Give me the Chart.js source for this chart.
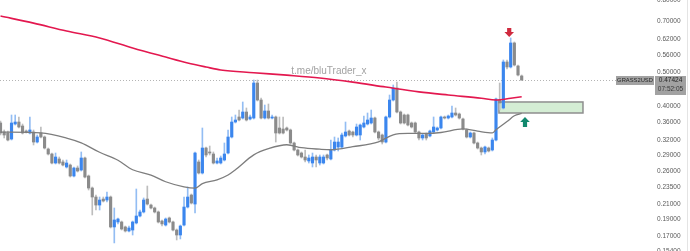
<!DOCTYPE html>
<html><head><meta charset="utf-8">
<script src="https://cdn.jsdelivr.net/npm/chart.js@4.4.1/dist/chart.umd.min.js"></script>
<style>html,body{margin:0;padding:0;background:#fff;}#wrap{position:relative;width:690px;height:251px;}</style>
</head><body><div id="wrap"><canvas id="c"></canvas></div>
<script>
// ---- data ----
const opens = [.3577,.3371,.3349,.3219,.3553,.3600,.3507,.3393,.3349,.3371,.3156,.3349,.3262,.3014,.2917,.2749,.2823,.2768,.2678,.2713,
.2524,.2660,.2625,.2841,.2524,.2332,.2198,.2085,.2169,.2155,.2198,.1805,.1865,.1865,.1805,.1758,.1769,.1853,.1940,.1992,
.2169,.2085,.2045,.1992,.1877,.1828,.1915,.1865,.1769,.1712,.1828,.2058,.2227,.2099,.2768,.2574,.3034,.2956,.2917,.2749,
.2749,.2804,.2936,.3262,.3600,.3721,.3696,.3845,.3672,.3696,.4653,.4161,.3696,.3871,.3696,.3721,.3461,.3438,.3461,.3416,
.3136,.2995,.2936,.2860,.2786,.2749,.2860,.2749,.2749,.2898,.2823,.2995,.3054,.3054,.3284,.3393,.3371,.3305,.3305,.3484,
.3553,.3577,.3696,.3371,.3305,.3156,.3721,.4161,.4503,.3845,.3770,.3770,.3577,.3577,.3371,.3241,.3327,.3284,.3371,.3416,
.3461,.3721,.3696,.3721,.3820,.3795,.3672,.3416,.3262,.3349,.3136,.3034,.2956,.3034,.2995,.3198,.4161,.3948,.5343,.5170,
.6055,.5204,.4873];
const highs = [.3624,.3416,.3393,.3770,.3770,.3721,.3553,.3416,.3721,.3416,.3305,.3484,.3284,.3034,.2936,.2936,.2860,.2804,.2804,.2731,
.2678,.2696,.2956,.2860,.2540,.2348,.2227,.2198,.2198,.2272,.2213,.2045,.1915,.1877,.1816,.1816,.1877,.2317,.2018,.2184,
.2363,.2099,.2058,.2005,.1890,.1915,.1927,.1877,.1781,.1828,.2198,.2348,.2242,.2956,.2804,.3461,.3054,.3074,.2956,.2841,
.2879,.3136,.3416,.3721,.3770,.3896,.4107,.3948,.3770,.4746,.4746,.4216,.4026,.4053,.3770,.3745,.3721,.3721,.3484,.3438,
.3156,.3014,.2956,.2995,.2898,.2936,.2898,.2898,.2898,.2917,.3198,.3262,.3241,.3349,.3600,.3416,.3393,.3553,.3553,.3745,
.3820,.3896,.3721,.3393,.3327,.3745,.4300,.4593,.4684,.3871,.3795,.3795,.3600,.3600,.3393,.3327,.3349,.3416,.3721,.3484,
.3745,.3745,.3770,.4000,.3948,.3820,.3696,.3438,.3371,.3371,.3156,.3054,.3074,.3054,.3241,.4216,.4653,.5414,.5414,.6257,
.6095,.5238,.4905];
const lows = [.3305,.3241,.3177,.3198,.3530,.3461,.3327,.3349,.3327,.3095,.3136,.3241,.3014,.2898,.2731,.2731,.2731,.2696,.2660,.2507,
.2507,.2591,.2608,.2491,.2302,.1953,.2018,.2018,.2127,.2127,.1793,.1625,.1841,.1769,.1746,.1746,.1712,.1841,.1927,.1979,
.2085,.2031,.1979,.1853,.1816,.1816,.1853,.1758,.1657,.1668,.1816,.2045,.2099,.1979,.2557,.2557,.2860,.2898,.2731,.2731,
.2731,.2786,.2917,.3241,.3577,.3624,.3672,.3624,.3648,.3672,.4134,.3672,.3672,.3672,.3672,.3156,.3327,.3327,.3393,.3115,
.2975,.2879,.2841,.2768,.2749,.2678,.2678,.2713,.2731,.2804,.2804,.2975,.2975,.3034,.3262,.3284,.3262,.3284,.3198,.3461,
.3530,.3553,.3349,.3198,.3115,.3136,.3696,.4134,.3820,.3553,.3553,.3507,.3461,.3349,.3198,.3198,.3198,.3262,.3349,.3393,
.3438,.3672,.3672,.3696,.3745,.3672,.3416,.3241,.3241,.3115,.3014,.2898,.2917,.2956,.2975,.3177,.3896,.3922,.5102,.5136,
.5204,.4873,.4746];
const closes = [.3349,.3305,.3198,.3577,.3600,.3484,.3349,.3371,.3416,.3156,.3262,.3262,.3034,.2917,.2749,.2860,.2749,.2713,.2749,.2524,
.2660,.2608,.2841,.2507,.2332,.2198,.2085,.2155,.2141,.2198,.1805,.1890,.1902,.1781,.1758,.1793,.1865,.1940,.1992,.2155,
.2099,.2045,.1992,.1865,.1841,.1902,.1865,.1769,.1712,.1816,.2058,.2198,.2113,.2936,.2574,.3034,.2898,.2936,.2749,.2786,
.2841,.2917,.3262,.3600,.3648,.3648,.3845,.3648,.3721,.4653,.4161,.3696,.3871,.3696,.3721,.3349,.3349,.3349,.3416,.3136,
.2995,.2898,.2860,.2804,.2841,.2860,.2804,.2860,.2860,.2841,.2995,.3156,.3156,.3305,.3371,.3305,.3305,.3484,.3530,.3577,
.3648,.3696,.3371,.3241,.3156,.3721,.4161,.4503,.3845,.3577,.3577,.3530,.3484,.3371,.3241,.3305,.3241,.3393,.3484,.3461,
.3721,.3696,.3745,.3820,.3770,.3696,.3438,.3262,.3349,.3136,.3034,.2956,.3054,.2975,.3198,.4188,.4080,.5343,.5170,.6055,
.5238,.4905,.4742];

const redMaIdx  = [0, 9, 18, 27, 36, 45, 51, 56, 60, 69, 78, 87, 96, 105, 114, 122, 131, 135, 139, 142];
const redMaVal  = [.723,.690,.655,.626,.586,.552,.531,.517,.507,.498,.490,.481,.468,.453,.439,.430,.421,.416,.421,.425];
const grayMaIdx = [0, 11, 18, 22, 27, 32, 36, 41, 45, 50, 53, 55, 59, 62, 64, 69, 73, 78, 82, 87, 90, 96, 103, 107, 111, 116, 120, 126, 130, 134, 135, 138, 140, 142];
const grayMaVal = [.337,.335,.324,.314,.295,.280,.263,.254,.243,.235,.233,.240,.246,.254,.263,.290,.302,.310,.304,.301,.300,.306,.316,.331,.334,.334,.336,.344,.339,.335,.342,.361,.375,.381];

const priceTicks = [0.80, 0.70, 0.62, 0.56, 0.50, 0.45, 0.40, 0.36, 0.32, 0.29, 0.26, 0.235, 0.21, 0.19, 0.17, 0.154];
const symbolName = 'GRASS2USD';
const lastPriceLabel = '0.47424';
const countdownLabel = '07:52:05';
const watermarkText = 't.me/bluTrader_x';
// annotation anchors in data units (candle index, price)
const zoneIdx = [135.8, 158.7];
const zonePrice = [0.4107, 0.3820];
const sellArrow = [138.6, 0.630, 0.668];   // index, tip price, tail price
const buyArrow  = [142.9, 0.3721, 0.3484];

// ---- chart ----
const FONT = '"Liberation Sans", Arial, sans-serif';
const idx = closes.map((_, i) => i);
const isUp = i => closes[i] >= opens[i];
const BLUE = '#3b86ee', BLUE_W = '#93bdf3', GRAY = '#8b8b8b', GRAY_W = '#bdbdbd';

const overlay = {
  id: 'overlay',
  beforeDatasetsDraw(chart) {
    const {ctx, chartArea: a, scales: {x, y}} = chart;
    ctx.save();
    ctx.font = '10px ' + FONT;
    ctx.fillStyle = '#a3a3a3';
    ctx.textAlign = 'center'; ctx.textBaseline = 'middle';
    ctx.fillText(watermarkText, a.left + (a.right - a.left) * 0.506, 71);
    const py = Math.round(y.getPixelForValue(closes[closes.length - 1])) + 0.5;
    ctx.strokeStyle = '#b4b4b4'; ctx.lineWidth = 1; ctx.setLineDash([1, 2]);
    ctx.beginPath(); ctx.moveTo(a.left, py); ctx.lineTo(617, py); ctx.stroke();
    ctx.setLineDash([]);
    const x0 = x.getPixelForValue(zoneIdx[0]), x1 = x.getPixelForValue(zoneIdx[1]);
    const y0 = y.getPixelForValue(zonePrice[0]), y1 = y.getPixelForValue(zonePrice[1]);
    ctx.fillStyle = '#d4edd4';
    ctx.fillRect(x0, y0, x1 - x0, y1 - y0);
    ctx.strokeStyle = '#8e8e8e'; ctx.lineWidth = 1.5;
    ctx.strokeRect(x0, y0, x1 - x0, y1 - y0);
    ctx.restore();
  },
  afterDatasetsDraw(chart) {
    const {ctx, scales: {x, y}} = chart;
    const arrow = (spec, color) => {
      const px = x.getPixelForValue(spec[0]);
      const tip = y.getPixelForValue(spec[1]);
      const tail = y.getPixelForValue(spec[2]);
      const dir = tip > tail ? 1 : -1;
      const headH = 5, headW = 4.8, shaft = 2.1;
      const hb = tip - dir * headH;
      ctx.save();
      ctx.fillStyle = color;
      ctx.beginPath();
      ctx.moveTo(px - shaft, tail); ctx.lineTo(px + shaft, tail);
      ctx.lineTo(px + shaft, hb); ctx.lineTo(px + headW, hb);
      ctx.lineTo(px, tip); ctx.lineTo(px - headW, hb);
      ctx.lineTo(px - shaft, hb); ctx.closePath(); ctx.fill();
      ctx.restore();
    };
    arrow(sellArrow, '#cf2a3e');
    arrow(buyArrow, '#12896e');
  },
  afterDraw(chart) {
    const {ctx, scales: {y}} = chart;
    const py = Math.round(y.getPixelForValue(closes[closes.length - 1]));
    ctx.save();
    ctx.textBaseline = 'middle'; ctx.textAlign = 'center';
    ctx.fillStyle = '#a2a2a2';
    ctx.fillRect(616, py - 4, 38, 9);
    ctx.font = '5.8px ' + FONT;
    ctx.fillStyle = '#262626';
    ctx.fillText(symbolName, 635, py + 0.5);
    ctx.font = '6.5px ' + FONT;
    ctx.fillStyle = '#a2a2a2';
    ctx.fillRect(655, py - 4, 31, 19);
    ctx.fillStyle = '#262626';
    ctx.fillText(lastPriceLabel, 670.5, py + 0.5);
    ctx.fillStyle = '#3a3a3a';
    ctx.fillText(countdownLabel, 670.5, py + 9.5);
    ctx.strokeStyle = '#e4e4e4'; ctx.lineWidth = 1;
    ctx.beginPath(); ctx.moveTo(687.5, 0); ctx.lineTo(687.5, 251); ctx.stroke();
    ctx.restore();
  }
};

new Chart(document.getElementById('c'), {
  type: 'bar',
  data: {
    datasets: [
      {
        type: 'line', label: 'MA long', order: 0,
        data: redMaIdx.map((v, k) => ({x: v, y: redMaVal[k]})),
        borderColor: '#e3184f', borderWidth: 1.6, pointRadius: 0,
        cubicInterpolationMode: 'monotone', fill: false
      },
      {
        type: 'line', label: 'MA short', order: 0,
        data: grayMaIdx.map((v, k) => ({x: v, y: grayMaVal[k]})),
        borderColor: '#7d7d7d', borderWidth: 1.3, pointRadius: 0,
        cubicInterpolationMode: 'monotone', fill: false
      },
      {
        label: 'bodies', order: 1, grouped: false,
        data: idx.map(i => ({x: i, y: [opens[i], closes[i]]})),
        backgroundColor: c => isUp(c.dataIndex) ? BLUE : GRAY,
        barThickness: 2.5, minBarLength: 1, borderWidth: 0
      },
      {
        label: 'wicks', order: 2, grouped: false,
        data: idx.map(i => ({x: i, y: [lows[i], highs[i]]})),
        backgroundColor: c => isUp(c.dataIndex) ? BLUE_W : GRAY_W,
        barThickness: 1, borderWidth: 0
      }
    ]
  },
  options: {
    animation: false, responsive: true, maintainAspectRatio: false,
    layout: {padding: 0},
    plugins: {legend: {display: false}, tooltip: {enabled: false}},
    scales: {
      x: {type: 'linear', min: -0.14, max: 176.96, display: false, offset: false, grid: {display: false}},
      y: {
        type: 'logarithmic', position: 'right', min: 0.1541, max: 0.8033,
        afterBuildTicks: s => { s.ticks = priceTicks.map(v => ({value: v})); },
        afterFit: s => { s.width = 40; s.paddingTop = 0; s.paddingBottom = 0; },
        grid: {display: false, drawTicks: false},
        border: {display: false},
        ticks: {autoSkip: false, padding: 7, color: '#5a5a5a', font: {size: 6.5, family: FONT},
                callback: v => Number(v).toFixed(5)}
      }
    }
  },
  plugins: [overlay]
});
</script>
</body></html>
